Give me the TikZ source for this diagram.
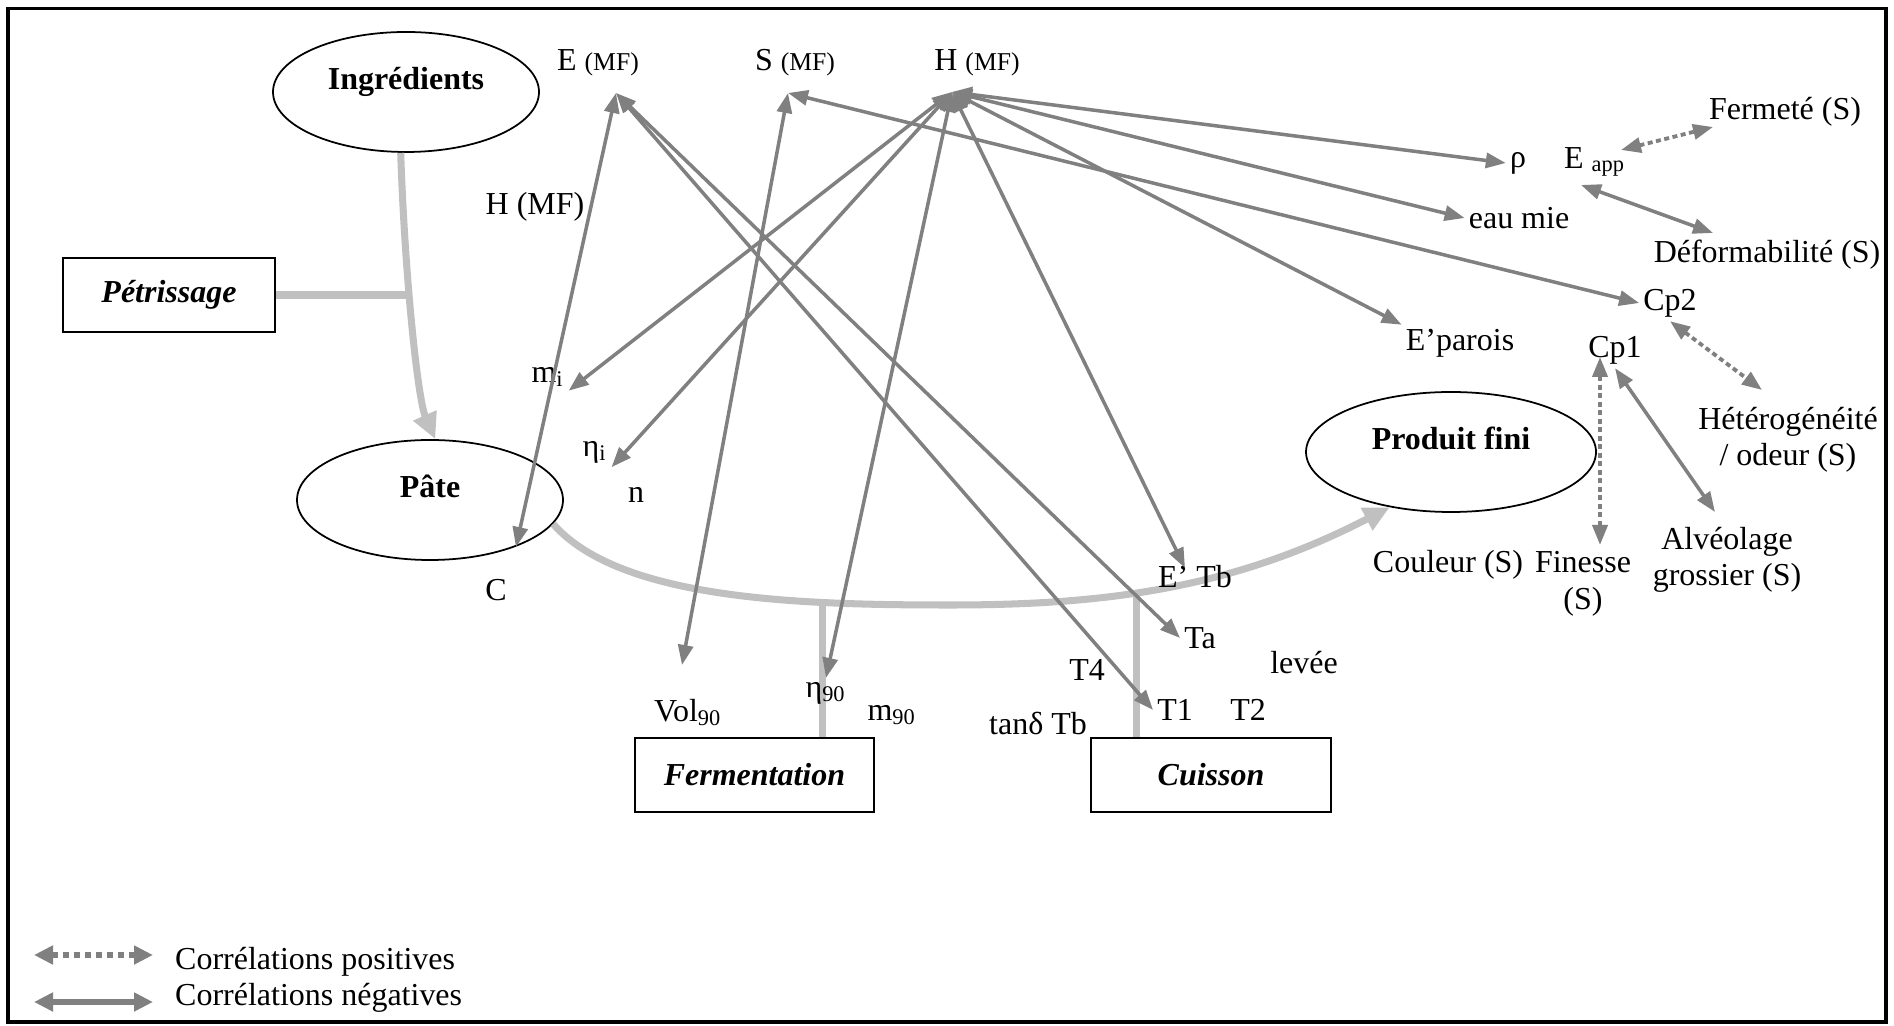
\documentclass[tikz,border=0pt]{standalone}
\usepackage{fontspec}
\setmainfont{Liberation Serif}
\usepackage{tikz}
\usetikzlibrary{arrows.meta, shapes.geometric, positioning, calc}
\definecolor{corrgray}{HTML}{808080}
\definecolor{procgray}{HTML}{C0C0C0}
\newcommand{\mfsmall}{{\fontsize{7.3}{8}\selectfont (MF)}}

\begin{document}
\begin{tikzpicture}[x=1cm, y=-1cm, font=\fontsize{9.1}{10.4}\selectfont,
    etape/.style={ellipse, draw=black, line width=0.5pt, minimum width=2.66cm, minimum height=1.2cm, font=\fontsize{9.1}{10.4}\selectfont\bfseries, text height=0.22cm, text depth=0.26cm},
    operation/.style={draw=black, line width=0.6pt, minimum width=2.12cm, minimum height=0.74cm, font=\fontsize{9.1}{10.4}\selectfont\bfseries\itshape},
    varlabel/.style={inner sep=1pt, align=center},
    procline/.style={procgray, line width=2pt},
    procarrow/.style={procline, -{Triangle[length=0.26cm, width=0.24cm]}},
    corrneg/.style={corrgray, line width=1pt, {Triangle[length=0.2cm, width=0.15cm]}-{Triangle[length=0.2cm, width=0.15cm]}},
    corrpos/.style={corrneg, line width=1.1pt, dash pattern=on 0.05cm off 0.035cm},
    legsolid/.style={corrgray, line width=1.7pt, {Triangle[length=0.19cm, width=0.18cm]}-{Triangle[length=0.19cm, width=0.18cm]}},
    legdotted/.style={legsolid, dash pattern=on 0.06cm off 0.05cm}]
    \useasboundingbox (0,0) rectangle (18.94,10.26);
    \draw[line width=1.1pt] (0.08,0.085) rectangle (18.86,10.22);

    % etapes du procede
    \node[etape] (ingr) at (4.06,0.92) {Ingrédients};
    \node[etape] (pate) at (4.30,5.00) {Pâte};
    \node[etape, minimum width=2.90cm] (prod) at (14.51,4.52) {Produit fini};
    \node[operation] (petr) at (1.69,2.95) {Pétrissage};
    \node[operation, minimum width=2.39cm] (ferm) at (7.545,7.75) {Fermentation};
    \node[operation, minimum width=2.40cm] (cuis) at (12.11,7.75) {Cuisson};

    % chemin du procede
    \draw[procarrow] (ingr.265) .. controls (4.05,2.80) and (4.18,4.00) .. (pate.85) coordinate[pos=0.39] (jpetr);
    \draw[procline] (petr.east) -- (petr.east -| jpetr);
    \draw[procarrow] (pate.-11) .. controls (6.20,6.00) and (8.00,6.05) .. (9.50,6.05) coordinate[pos=0.725] (jferm)
        .. controls (11.00,6.05) and (12.30,5.90) .. (prod.222) coordinate[pos=0.43] (jcuis);
    \draw[procline] (jferm) -- (jferm |- ferm.north);
    \draw[procline] (jcuis) -- (jcuis |- cuis.north);

    % variables mesurees
    \node[varlabel] (emf) at (5.98,0.63) {E \mfsmall};
    \node[varlabel] (smf) at (7.95,0.63) {S \mfsmall};
    \node[varlabel] (hmf) at (9.77,0.63) {H \mfsmall};
    \node[varlabel] (hmfb) at (5.35,2.07) {H (MF)};
    \node[varlabel] (mi) at (5.48,3.77) {m\textsubscript{i}};
    \node[varlabel] (etai) at (5.95,4.52) {η\textsubscript{i}};
    \node[varlabel] (n) at (6.36,4.95) {n};
    \node[varlabel] (c) at (4.96,5.90) {C};
    \node[varlabel] (vol) at (6.88,7.13) {Vol\textsubscript{90}};
    \node[varlabel] (etan) at (8.26,6.93) {η\textsubscript{90}};
    \node[varlabel] (mn) at (8.92,7.15) {m\textsubscript{90}};
    \node[varlabel] (tfour) at (10.87,6.70) {T4};
    \node[varlabel] (tand) at (10.38,7.23) {tanδ Tb};
    \node[varlabel] (tone) at (11.75,7.10) {T1};
    \node[varlabel] (ttwo) at (12.48,7.10) {T2};
    \node[varlabel] (ta) at (12.00,6.38) {Ta};
    \node[varlabel] (levee) at (13.04,6.63) {levée};
    \node[varlabel] (etb) at (11.95,5.77) {E’ Tb};
    \node[varlabel] (eparois) at (14.60,3.43) {E’parois};
    \node[varlabel] (rho) at (15.18,1.63) {ρ};
    \node[varlabel] (eapp) at (15.95,1.62) {E \textsubscript{app}};
    \node[varlabel] (eaumie) at (15.19,2.18) {eau mie};
    \node[varlabel] (cptwo) at (16.70,3.03) {Cp2};
    \node[varlabel] (cpone) at (16.15,3.50) {Cp1};

    % analyse sensorielle
    \node[varlabel] (fermete) at (17.85,1.12) {Fermeté (S)};
    \node[varlabel] (deform) at (17.67,2.55) {Déformabilité (S)};
    \node[varlabel] (hetero) at (17.88,4.40) {Hétérogénéité\\/ odeur (S)};
    \node[varlabel] (alveo) at (17.27,5.60) {Alvéolage\\grossier (S)};
    \node[varlabel] (couleur) at (14.48,5.65) {Couleur (S)};
    \node[varlabel] (finesse) at (15.83,5.84) {Finesse\\(S)};

    % correlations
    \coordinate (ehub) at (6.16,0.93);
    \coordinate (shub) at (7.88,0.93);
    \coordinate (hhub) at (9.52,0.92);
    \coordinate (cend) at (5.16,5.47);
    \coordinate (volend) at (6.82,6.65);
    \coordinate (etbend) at (11.85,5.68);

    \draw[corrneg] (ehub) -- (cend);
    \draw[corrneg] (ehub) -- (tone.west);
    \draw[corrneg] (ehub) -- (ta.west);
    \draw[corrneg] (shub) -- (volend);
    \draw[corrneg] (shub) -- (cptwo.west);
    \draw[corrneg] (hhub) -- (rho.west);
    \draw[corrneg] (hhub) -- (eaumie.west);
    \draw[corrneg] (hhub) -- (eparois.north west);
    \draw[corrneg] (hhub) -- (etbend);
    \draw[corrneg] (hhub) -- (etan.north);
    \draw[corrneg] (hhub) -- (mi.south east);
    \draw[corrneg] (hhub) -- (etai.south east);

    \coordinate (eappt) at (16.21,1.50);
    \coordinate (fermeteb) at (17.13,1.27);
    \coordinate (eappb) at (15.81,1.85);
    \coordinate (deformt) at (17.13,2.33);
    \coordinate (heterot) at (17.62,3.90);
    \coordinate (cponeb) at (16.00,3.57);
    \coordinate (finesset) at (16.00,5.45);
    \coordinate (alveot) at (17.15,5.12);

    \draw[corrpos] (eappt) -- (fermeteb);
    \draw[corrneg] (eappb) -- (deformt);
    \draw[corrpos] (cptwo.south) -- (heterot);
    \draw[corrpos] (cponeb) -- (finesset);
    \draw[corrneg] (cpone.south) -- (alveot);

    % legende
    \coordinate (legpos-l) at (0.34,9.55);
    \coordinate (legpos-r) at (1.53,9.55);
    \coordinate (legneg-l) at (0.34,10.02);
    \coordinate (legneg-r) at (1.53,10.02);
    \draw[legdotted] (legpos-l) -- (legpos-r);
    \draw[legsolid] (legneg-l) -- (legneg-r);
    \node[varlabel, anchor=west] (legpos) at (1.71,9.62) {Corrélations positives};
    \node[varlabel, anchor=west] (legneg) at (1.71,9.98) {Corrélations négatives};
\end{tikzpicture}
\end{document}
